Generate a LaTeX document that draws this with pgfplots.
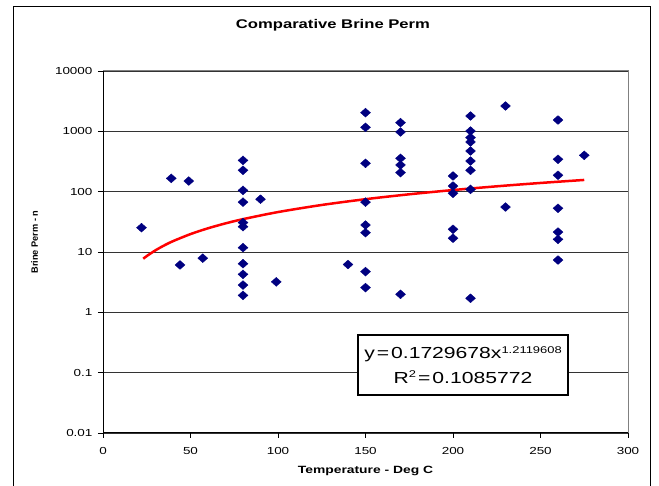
\documentclass[border=0pt]{standalone}
\usepackage{fontspec}
\setmainfont{Liberation Sans}
\newfontfamily\stretchfont[FakeStretch=1.32]{Liberation Sans}
\usepackage{pgfplots}
\pgfplotsset{compat=1.18}
\definecolor{navyblue}{HTML}{000080}
\begin{document}
\begin{tikzpicture}
\useasboundingbox (0pt,0pt) rectangle (659pt,486pt);
\draw[black, line width=1pt] (13pt,0pt) -- (13pt,479pt) -- (650pt,479pt) -- (650pt,0pt);
\begin{axis}[
  at={(103pt,53pt)}, anchor=south west,
  width=525pt, height=362pt, scale only axis,
  xmin=0, xmax=300, ymode=log, ymin=0.01, ymax=10000,
  xtick={0,50,100,150,200,250,300},
  ytick={0.01,0.1,1,10,100,1000,10000},
  yticklabels={0.01,0.1,1,10,100,1000,10000},
  xminorticks=false, yminorticks=false,
  tick align=outside, major tick length=5pt,
  tick style={black, line width=0.8pt},
  tick pos=left,
  ymajorgrids, grid style={black!80, line width=0.9pt},
  axis line style={draw=gray, line width=1pt},
  ticklabel style={font=\stretchfont\fontsize{10.2}{12}\selectfont},
  xticklabel style={yshift=-6pt},
  yticklabel style={xshift=-2pt},
  /pgf/number format/assume math mode=true,
  title={Comparative Brine Perm},
  title style={font=\stretchfont\bfseries\fontsize{12.6}{15}\selectfont, at={(axis description cs:0.438,1.1086)}, anchor=center},
  xlabel={Temperature - Deg C},
  xlabel style={font=\stretchfont\bfseries\fontsize{10.5}{13}\selectfont, at={(axis description cs:0.5,-0.105)}, anchor=center},
  ylabel={Brine Perm - n},
  ylabel style={font=\bfseries\fontsize{9.2}{11}\selectfont, at={(axis description cs:-0.1305,0.5276)}, anchor=center, rotate=0},
]
\addplot[only marks, mark=diamond*, mark size=4.4pt, color=navyblue,
  mark options={xscale=1.5, draw=navyblue, fill=navyblue}] coordinates {
(22,25.3) (39,166) (49,150) (44,6.1) (57,7.9)
(80,330) (80,226) (80,105) (80,67) (80,30.7) (80,26.3) (80,11.8) (80,6.4) (80,4.26) (80,2.83) (80,1.91)
(90,75) (99,3.2) (140,6.2)
(150,2040) (150,1165) (150,295) (150,67) (150,28) (150,20.9) (150,4.73) (150,2.57)
(170,1393) (170,974) (170,357) (170,277) (170,207) (170,1.99)
(200,182) (200,124) (200,94) (200,23.8) (200,16.9)
(210,1795) (210,1012) (210,787) (210,666) (210,472) (210,322) (210,226) (210,109) (210,1.71)
(230,2630) (230,55.6)
(260,1540) (260,344) (260,187) (260,53) (260,21.4) (260,16.2) (260,7.36)
(275,400)
};
\addplot[red, line width=2.5pt, no marks, smooth] coordinates {
(23,7.733) (25,8.555) (30,10.670) (35,12.863) (40,15.121) (50,19.817) (60,24.718) (70,29.796) (80,35.031)
(100,45.909) (125,60.164) (150,75.04) (175,90.46) (200,106.35) (225,122.67) (250,139.37) (275,156.44)
};
\draw[black, line width=1pt] (rel axis cs:0,1) -- (rel axis cs:0,0) -- (rel axis cs:1,0);
\node[draw=black, fill=white, line width=1.2pt, minimum width=210pt, minimum height=60pt, inner sep=0pt,
  align=center, font=\stretchfont\fontsize{16}{24.4}\selectfont]
  at (rel axis cs:0.68571,0.18785)
  {y\hspace{2pt}=\hspace{2pt}0.1729678x\raisebox{5.7pt}{\fontsize{9.8}{10}\selectfont 1.2119608}\\
   R\raisebox{5.7pt}{\fontsize{9.8}{10}\selectfont 2}\hspace{2pt}=\hspace{2pt}0.1085772};
\end{axis}
\end{tikzpicture}
\end{document}
